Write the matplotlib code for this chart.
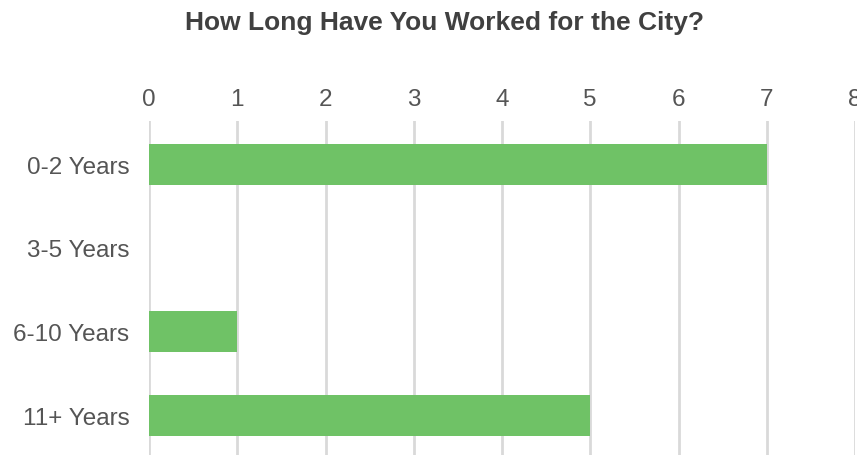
import matplotlib
matplotlib.use("Agg")
import matplotlib.pyplot as plt

# datos
categorias = ["0-2 Years", "3-5 Years", "6-10 Years", "11+ Years"]
valores = [7, 0, 1, 5]
ticks_x = [0, 1, 2, 3, 4, 5, 6, 7, 8]

plt.rcParams['font.family'] = ['Liberation Sans', 'DejaVu Sans']

fig = plt.figure(figsize=(8.57, 4.56), dpi=100)
ax = fig.add_axes([149 / 857, -0.0077, (855 - 149) / 857, 0.7325 + 0.0077])

ax.barh(range(len(categorias)), valores, height=0.49, color='#6fc266', zorder=3)

ax.set_xlim(0, 8)
ax.set_ylim(3.52, -0.52)
ax.set_xticks(ticks_x)
ax.set_yticks(range(len(categorias)))
ax.set_yticklabels(categorias)

ax.xaxis.tick_top()
ax.tick_params(axis='x', length=0, pad=8, labelsize=17.5, labelcolor='#555555')
ax.tick_params(axis='y', length=0, pad=14, labelsize=17.5, labelcolor='#555555')

ax.grid(axis='x', color='#d9d9d9', linewidth=2, zorder=0)
for s in ax.spines.values():
    s.set_visible(False)

fig.text(444 / 857, 1 - 23 / 456, "How Long Have You Worked for the City?",
         ha='center', va='center', fontsize=19, fontweight='bold', color='#404040')

fig.savefig('out.png', dpi=100)
